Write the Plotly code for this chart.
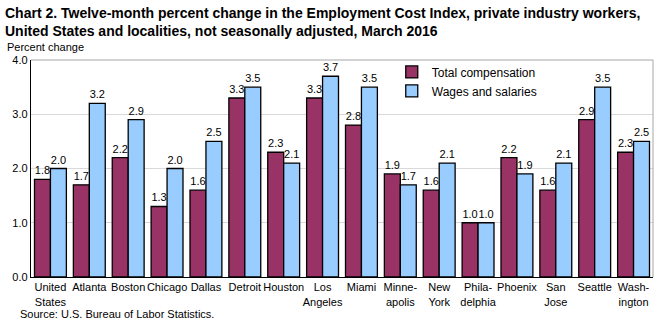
import plotly.graph_objects as go

categories = ["United<br>States", "Atlanta", "Boston", "Chicago", "Dallas", "Detroit", "Houston",
              "Los<br>Angeles", "Miami", "Minne-<br>apolis", "New<br>York", "Phila-<br>delphia",
              "Phoenix", "San<br>Jose", "Seattle", "Wash-<br>ington"]
total_comp = [1.8, 1.7, 2.2, 1.3, 1.6, 3.3, 2.3, 3.3, 2.8, 1.9, 1.6, 1.0, 2.2, 1.6, 2.9, 2.3]
wages = [2.0, 3.2, 2.9, 2.0, 2.5, 3.5, 2.1, 3.7, 3.5, 1.7, 2.1, 1.0, 1.9, 2.1, 3.5, 2.5]
y_ticks = [0, 1, 2, 3, 4]
y_tick_labels = ["0.0", "1.0", "2.0", "3.0", "4.0"]

FONT = "Liberation Sans, Arial, sans-serif"

fig = go.Figure()
fig.add_trace(go.Bar(name="Total compensation", x=categories, y=total_comp,
                     marker=dict(color="#993366", line=dict(color="black", width=1.3)),
                     text=[f"{v:.1f}" for v in total_comp], textposition="outside",
                     textfont=dict(size=11, color="black"), cliponaxis=False))
fig.add_trace(go.Bar(name="Wages and salaries", x=categories, y=wages,
                     marker=dict(color="#99CCFF", line=dict(color="black", width=1.3)),
                     text=[f"{v:.1f}" for v in wages], textposition="outside",
                     textfont=dict(size=11, color="black"), cliponaxis=False))

fig.update_layout(
    width=657, height=325,
    margin=dict(l=31, r=4, t=60, b=48),
    paper_bgcolor="white", plot_bgcolor="white",
    font=dict(family=FONT, size=11, color="black"),
    barmode="group", bargap=0.18, bargroupgap=0,
    showlegend=True,
    legend=dict(x=0.58, y=1.012, xanchor="left", yanchor="top",
                bgcolor="rgba(0,0,0,0)", font=dict(size=12, family=FONT),
                itemwidth=30, tracegroupgap=0, traceorder="normal"),
)
fig.update_xaxes(showline=True, linecolor="black", linewidth=1.3, ticks="", mirror=False,
                 tickfont=dict(size=11), tickangle=0)
fig.update_yaxes(range=[0, 4], tickvals=y_ticks, ticktext=y_tick_labels, showgrid=True,
                 gridcolor="#d9d9d9", gridwidth=1, showline=True, linecolor="black", linewidth=1.3,
                 ticks="", tickfont=dict(size=11), zeroline=False)
# gray frame on top and right
fig.add_shape(type="line", xref="paper", yref="paper", x0=0, x1=1, y0=1, y1=1,
              line=dict(color="#a6a6a6", width=1))
fig.add_shape(type="line", xref="paper", yref="paper", x0=1, x1=1, y0=0, y1=1,
              line=dict(color="#a6a6a6", width=1))
fig.add_annotation(text="<b>Chart 2. Twelve-month percent change in the Employment Cost Index, private industry workers,<br>United States and localities, not seasonally adjusted, March 2016</b>",
                   xref="paper", yref="paper", x=-0.045, y=1.262, xanchor="left", yanchor="top",
                   align="left", showarrow=False, font=dict(size=14, family=FONT))
fig.add_annotation(text="Percent change", xref="paper", yref="paper", x=-0.041, y=1.025,
                   xanchor="left", yanchor="bottom", showarrow=False, font=dict(size=11))
fig.add_annotation(text="Source: U.S. Bureau of Labor Statistics.", xref="paper", yref="paper",
                   x=-0.021, y=-0.135, xanchor="left", yanchor="top", showarrow=False,
                   font=dict(size=11))
fig.write_html("out.html")
